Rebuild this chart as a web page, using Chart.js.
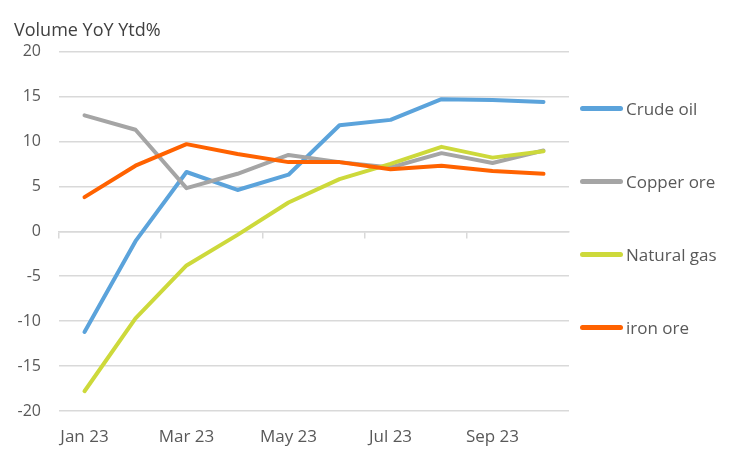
<!DOCTYPE html>
<html lang="en">
<head>
    <meta charset="UTF-8">
    <title>Volume YoY Ytd%</title>
    <script src="https://cdn.jsdelivr.net/npm/chart.js"></script>
    <style>
        body {
            margin: 0;
            padding: 0;
            background: #fff;
            font-family: 'Open Sans', sans-serif;
        }
        .wrap {
            position: relative;
            width: 750px;
            height: 450px;
        }
        #legend {
            position: absolute;
            left: 580px;
            top: 96px;
        }
        .item {
            display: flex;
            align-items: center;
            height: 24px;
            margin-bottom: 49px;
            color: #595959;
            font-size: 17px;
        }
        .swatch {
            width: 43px;
            height: 5px;
            border-radius: 3px;
            margin-right: 3px;
        }
    </style>
</head>
<body>
    <div class="wrap">
        <canvas id="chart" width="750" height="450"></canvas>
        <div id="legend"></div>
    </div>

    <script>
        const months = ['Jan 23', 'Feb 23', 'Mar 23', 'Apr 23', 'May 23', 'Jun 23', 'Jul 23', 'Aug 23', 'Sep 23', 'Oct 23'];
        const crudeOil = [-11.2, -1.1, 6.6, 4.6, 6.3, 11.8, 12.4, 14.7, 14.6, 14.4];
        const copperOre = [12.9, 11.3, 4.8, 6.4, 8.5, 7.7, 7.1, 8.7, 7.6, 9.0];
        const naturalGas = [-17.8, -9.7, -3.8, -0.4, 3.2, 5.8, 7.5, 9.4, 8.2, 8.9];
        const ironOre = [3.8, 7.3, 9.7, 8.6, 7.7, 7.7, 6.9, 7.3, 6.7, 6.4];

        const textColor = '#595959';
        const gridColor = '#d9d9d9';
        const fontFamily = 'Open Sans';

        const series = [
            { label: 'Crude oil', data: crudeOil, color: '#5ba3db' },
            { label: 'Copper ore', data: copperOre, color: '#a5a5a5' },
            { label: 'Natural gas', data: naturalGas, color: '#cdd93b' },
            { label: 'iron ore', data: ironOre, color: '#ff6200' }
        ];

        // html legend
        const legend = document.getElementById('legend');
        series.forEach(s => {
            const item = document.createElement('div');
            item.className = 'item';
            item.innerHTML = `<span class="swatch" style="background:${s.color}"></span>${s.label}`;
            legend.appendChild(item);
        });

        new Chart(document.getElementById('chart'), {
            type: 'line',
            data: {
                labels: months,
                datasets: series.map((s, i) => ({
                    label: s.label,
                    data: s.data,
                    borderColor: s.color,
                    backgroundColor: s.color,
                    borderWidth: 4,
                    borderCapStyle: 'round',
                    borderJoinStyle: 'round',
                    pointRadius: 0,
                    tension: 0,
                    order: series.length - 1 - i,
                    xAxisID: 'x'
                }))
            },
            options: {
                responsive: false,
                animation: false,
                layout: {
                    padding: { left: 14, right: 181, top: 0, bottom: 4 }
                },
                plugins: {
                    legend: { display: false },
                    tooltip: { enabled: false },
                    title: {
                        display: true,
                        text: 'Volume YoY Ytd%',
                        align: 'start',
                        color: '#404040',
                        font: { family: fontFamily, size: 18, weight: 'normal' },
                        padding: { top: 20, bottom: 10 }
                    }
                },
                scales: {
                    x: {
                        type: 'category',
                        position: 'bottom',
                        offset: true,
                        afterFit: scale => { scale.height = 35; },
                        grid: { display: false },
                        border: { display: false },
                        ticks: {
                            autoSkip: false,
                            maxRotation: 0,
                            padding: 8,
                            color: textColor,
                            font: { family: fontFamily, size: 17 },
                            callback: function (val, index) {
                                return index % 2 === 0 ? this.getLabelForValue(val) : '';
                            }
                        }
                    },
                    zero: {
                        type: 'category',
                        axis: 'x',
                        position: { y: 0 },
                        offset: true,
                        afterFit: scale => { scale.height = 0; },
                        ticks: { display: false },
                        grid: {
                            offset: true,
                            drawOnChartArea: false,
                            drawTicks: true,
                            tickLength: 6,
                            lineWidth: 1.5,
                            tickColor: ctx => ctx.index % 2 === 0 ? gridColor : 'rgba(0,0,0,0)'
                        },
                        border: { display: true, color: gridColor, width: 1.5 }
                    },
                    y: {
                        min: -20,
                        max: 20,
                        afterFit: scale => { scale.width = 45; },
                        ticks: {
                            stepSize: 5,
                            padding: 18,
                            color: textColor,
                            font: { family: fontFamily, size: 16 }
                        },
                        grid: {
                            color: gridColor,
                            lineWidth: 1.5,
                            drawTicks: false
                        },
                        border: { display: false }
                    }
                }
            }
        });
    </script>
</body>
</html>
